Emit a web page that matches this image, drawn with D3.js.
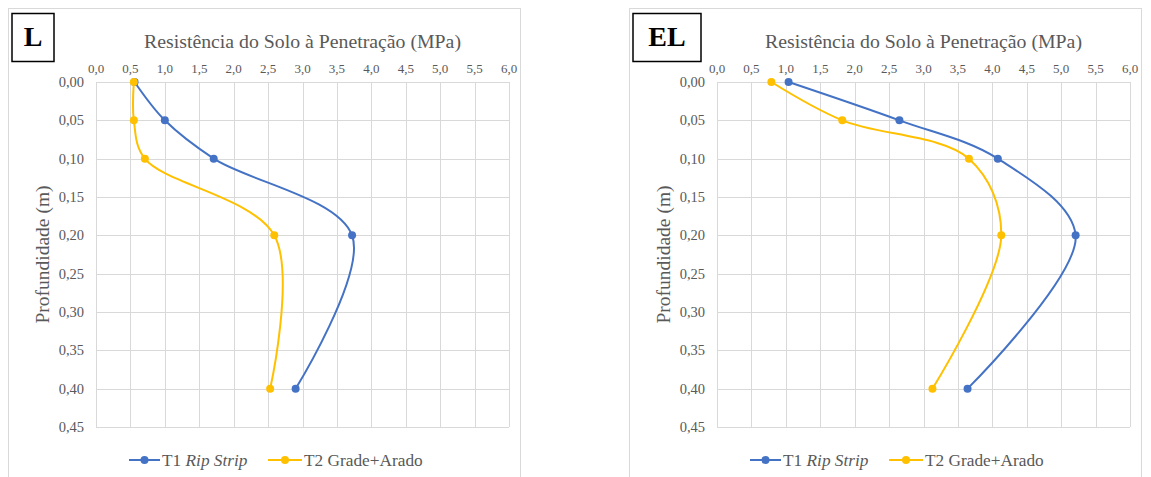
<!DOCTYPE html>
<html>
<head>
<meta charset="utf-8">
<script src="https://cdn.jsdelivr.net/npm/d3@7"></script>
<style>
  body { margin: 0; background: #fff; }
  svg { display: block; }
  text { font-family: "Liberation Serif", "Times New Roman", serif; }
</style>
</head>
<body>
<svg id="chart" width="1151" height="477"></svg>
<script>
// depths (m) measured for both treatments
const depths = [0.00, 0.05, 0.10, 0.20, 0.40];

// Penetration resistance (MPa), panel L
const lT1 = [0.56, 1.00, 1.71, 3.72, 2.90];
const lT2 = [0.55, 0.55, 0.71, 2.59, 2.53];

// Penetration resistance (MPa), panel EL
const elT1 = [1.04, 2.65, 4.08, 5.21, 3.64];
const elT2 = [0.79, 1.82, 3.66, 4.13, 3.13];

const xTickValues = [0, 0.5, 1, 1.5, 2, 2.5, 3, 3.5, 4, 4.5, 5, 5.5, 6];
const yTickValues = [0, 0.05, 0.10, 0.15, 0.20, 0.25, 0.30, 0.35, 0.40, 0.45];

const seriesNames = ["T1", "T2 Grade+Arado"];
const seriesColors = ["#4472C4", "#FFC000"];

const svg = d3.select("#chart");
const fmtX = v => d3.format(".1f")(v).replace(".", ",");
const fmtY = v => d3.format(".2f")(v).replace(".", ",");

function drawPanel(offsetX, label, labelWidth, t1, t2) {
    const g = svg.append("g").attr("transform", `translate(${offsetX},0)`);

    // Outer chart frame
    g.append("rect")
        .attr("x", 8.5).attr("y", 8.5)
        .attr("width", 512).attr("height", 490)
        .attr("fill", "#fff")
        .attr("stroke", "#d9d9d9");

    const xScale = d3.scaleLinear().domain([0, 6]).range([96, 509]);
    const yScale = d3.scaleLinear().domain([0, 0.45]).range([82, 427]);

    // Grid
    g.append("g").selectAll("line").data(xTickValues).join("line")
        .attr("x1", d => Math.round(xScale(d)) + 0.5).attr("x2", d => Math.round(xScale(d)) + 0.5)
        .attr("y1", yScale(0)).attr("y2", yScale(0.45))
        .attr("stroke", "#d9d9d9");
    g.append("g").selectAll("line").data(yTickValues).join("line")
        .attr("y1", d => Math.round(yScale(d)) + 0.5).attr("y2", d => Math.round(yScale(d)) + 0.5)
        .attr("x1", xScale(0)).attr("x2", xScale(6))
        .attr("stroke", "#d9d9d9");

    // Top x axis labels
    g.append("g").selectAll("text").data(xTickValues).join("text")
        .attr("x", d => xScale(d))
        .attr("y", 73)
        .attr("text-anchor", "middle")
        .attr("font-size", "13px")
        .attr("fill", "#595959")
        .text(fmtX);

    // Left y axis labels
    g.append("g").selectAll("text").data(yTickValues).join("text")
        .attr("x", 84)
        .attr("y", d => yScale(d) + 5)
        .attr("text-anchor", "end")
        .attr("font-size", "14.5px")
        .attr("fill", "#595959")
        .text(fmtY);

    // Axis titles
    g.append("text")
        .attr("x", (xScale(0) + xScale(6)) / 2)
        .attr("y", 48)
        .attr("text-anchor", "middle")
        .attr("font-size", "19.8px")
        .attr("fill", "#595959")
        .text("Resistência do Solo à Penetração (MPa)");

    g.append("text")
        .attr("transform", `translate(49,${(yScale(0) + yScale(0.45)) / 2}) rotate(-90)`)
        .attr("text-anchor", "middle")
        .attr("font-size", "19.5px")
        .attr("fill", "#595959")
        .text("Profundidade (m)");

    // Panel label box
    g.append("rect")
        .attr("x", 12).attr("y", 13.5)
        .attr("width", labelWidth).attr("height", 48)
        .attr("fill", "#fff")
        .attr("stroke", "#000")
        .attr("stroke-width", 1.5);
    g.append("text")
        .attr("x", 12 + labelWidth / 2)
        .attr("y", 46)
        .attr("text-anchor", "middle")
        .attr("font-weight", "bold")
        .attr("font-size", "28px")
        .attr("fill", "#000")
        .text(label);

    // Series (Excel-like smoothed lines)
    const line = d3.line()
        .x(d => xScale(d[0]))
        .y(d => yScale(d[1]))
        .curve(d3.curveCatmullRom.alpha(0.5));

    [t1, t2].forEach((vals, i) => {
        const pts = vals.map((v, j) => [v, depths[j]]);
        g.append("path")
            .datum(pts)
            .attr("fill", "none")
            .attr("stroke", seriesColors[i])
            .attr("stroke-width", 2)
            .attr("d", line);
        g.append("g").selectAll("circle").data(pts).join("circle")
            .attr("cx", d => xScale(d[0]))
            .attr("cy", d => yScale(d[1]))
            .attr("r", 4)
            .attr("fill", seriesColors[i]);
    });

    // Legend
    const legendY = 460;
    const legendItems = [{ x: 129, w: 31 }, { x: 268, w: 34 }];
    legendItems.forEach((it, i) => {
        g.append("line")
            .attr("x1", it.x).attr("x2", it.x + it.w)
            .attr("y1", legendY).attr("y2", legendY)
            .attr("stroke", seriesColors[i]).attr("stroke-width", 2);
        g.append("circle")
            .attr("cx", it.x + it.w / 2).attr("cy", legendY)
            .attr("r", 4).attr("fill", seriesColors[i]);
        const t = g.append("text")
            .attr("x", it.x + it.w + 2)
            .attr("y", legendY + 5.5)
            .attr("font-size", "17.3px")
            .attr("fill", "#595959");
        t.append("tspan").text(seriesNames[i]);
        if (i === 0) {
            t.append("tspan").attr("font-style", "italic").text(" Rip Strip");
        }
    });
}

drawPanel(0, "L", 42, lT1, lT2);
drawPanel(621, "EL", 68, elT1, elT2);
</script>
</body>
</html>
